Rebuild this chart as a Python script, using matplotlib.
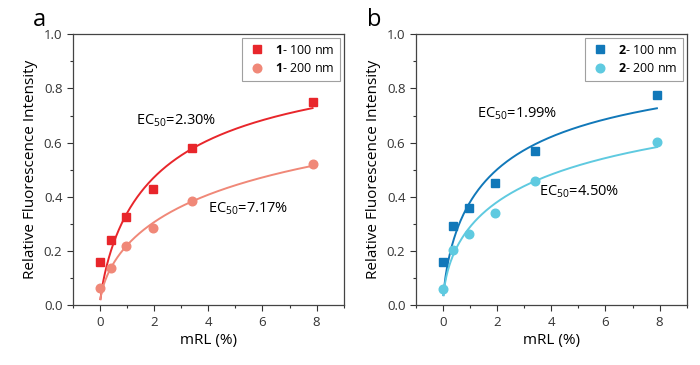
import matplotlib
matplotlib.use("Agg")
import matplotlib.pyplot as plt
from matplotlib.ticker import MultipleLocator
import numpy as np

plt.rcParams['font.family'] = ['Open Sans', 'DejaVu Sans']
plt.rcParams['mathtext.fontset'] = 'custom'
plt.rcParams['mathtext.rm'] = 'Open Sans'
plt.rcParams['mathtext.bf'] = 'Open Sans:bold'

# 数据
x_a = [0, 0.42, 0.98, 1.97, 3.39, 7.85]
y_a_100 = [0.161, 0.240, 0.326, 0.430, 0.582, 0.750]
y_a_200 = [0.062, 0.138, 0.218, 0.283, 0.383, 0.520]

x_b = [0, 0.39, 0.98, 1.94, 3.40, 7.90]
y_b_100 = [0.159, 0.292, 0.360, 0.451, 0.569, 0.776]
y_b_200 = [0.058, 0.203, 0.264, 0.342, 0.458, 0.601]

# Hill 拟合参数: EC50, n
fit_a_100 = (2.30, 0.80)
fit_a_200 = (7.17, 0.64)
fit_b_100 = (1.99, 0.71)
fit_b_200 = (4.50, 0.60)

labels_a = [r"$\mathbf{1}$- 100 nm", r"$\mathbf{1}$- 200 nm"]
labels_b = [r"$\mathbf{2}$- 100 nm", r"$\mathbf{2}$- 200 nm"]
ec_text_a = [r"EC$_{50}$=2.30%", r"EC$_{50}$=7.17%"]
ec_text_b = [r"EC$_{50}$=1.99%", r"EC$_{50}$=4.50%"]


def hill(x, ec50, n):
    return x ** n / (ec50 ** n + x ** n)


def draw_panel(ax, x, y1, y2, fit1, fit2, c1, c2, labels, ec_texts, ec_pos):
    xx = np.linspace(0.02, x[-1], 300)
    ax.plot(xx, hill(xx, *fit1), color=c1, lw=1.4, zorder=2)
    ax.plot(xx, hill(xx, *fit2), color=c2, lw=1.4, zorder=2)
    ax.plot(x, y1, 's', color=c1, ms=5.5, label=labels[0], zorder=3)
    ax.plot(x, y2, 'o', color=c2, ms=6.2, label=labels[1], zorder=3)

    for t, p in zip(ec_texts, ec_pos):
        ax.text(p[0], p[1], t, fontsize=10.5, va='center', ha='left')

    ax.set_xlim(-1, 9)
    ax.set_ylim(0, 1.0)
    ax.xaxis.set_major_locator(MultipleLocator(2))
    ax.xaxis.set_minor_locator(MultipleLocator(1))
    ax.yaxis.set_major_locator(MultipleLocator(0.2))
    ax.yaxis.set_minor_locator(MultipleLocator(0.1))
    ax.yaxis.set_major_formatter(plt.FormatStrFormatter('%.1f'))
    ax.tick_params(which='major', direction='out', length=4, width=0.8,
                   labelsize=9.5, colors='#333333')
    ax.tick_params(which='minor', direction='out', length=2.5, width=0.8,
                   colors='#333333')
    for s in ax.spines.values():
        s.set_color('#444444')
        s.set_linewidth(0.9)
    ax.set_xlabel('mRL (%)', fontsize=11, labelpad=3)
    ax.set_ylabel('Relative Fluorescence Intensity', fontsize=11, labelpad=4)

    leg = ax.legend(loc='upper right', fontsize=9, frameon=True, fancybox=False,
                    edgecolor='#888888', borderaxespad=0.3, handletextpad=0.7,
                    borderpad=0.45, labelspacing=0.45, handlelength=1.5)
    leg.get_frame().set_linewidth(0.8)


fig = plt.figure(figsize=(7, 3.65), dpi=100)
ax_a = fig.add_axes([0.104, 0.164, 0.387, 0.742])
ax_b = fig.add_axes([0.594, 0.164, 0.387, 0.742])

draw_panel(ax_a, x_a, y_a_100, y_a_200, fit_a_100, fit_a_200,
           '#E8262B', '#F08878', labels_a, ec_text_a, [(1.35, 0.68), (3.99, 0.358)])
draw_panel(ax_b, x_b, y_b_100, y_b_200, fit_b_100, fit_b_200,
           '#1178B9', '#5FCAE0', labels_b, ec_text_b, [(1.27, 0.708), (3.54, 0.42)])

fig.text(0.057, 0.945, 'a', fontsize=17, ha='center', va='center')
fig.text(0.535, 0.945, 'b', fontsize=17, ha='center', va='center')

fig.savefig('out.png', dpi=100)
